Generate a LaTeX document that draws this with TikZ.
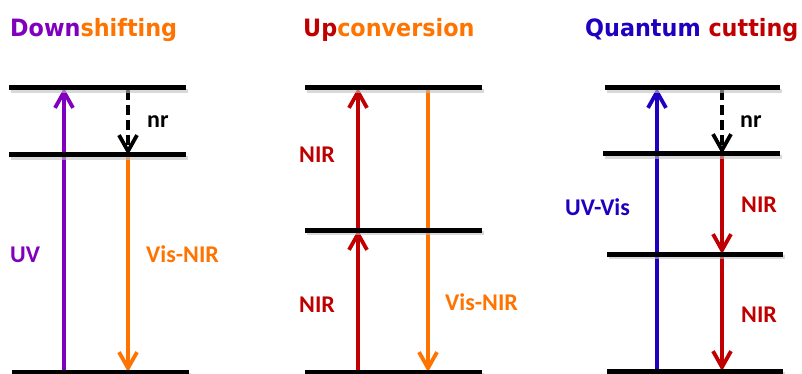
\documentclass[tikz,border=0pt]{standalone}
\usepackage{fontspec}
\usetikzlibrary{arrows.meta}
\newfontfamily\headfont{DejaVu Sans}
\newfontfamily\labfont{Carlito}
\definecolor{dsviolet}{RGB}{128,0,190}
\definecolor{dsorange}{RGB}{255,115,0}
\definecolor{dsred}{RGB}{192,0,0}
\definecolor{dsblue}{RGB}{32,0,192}
\newcommand{\tallhead}[1]{\scalebox{1}[1.07]{#1}}
\begin{document}
\begin{tikzpicture}[x=1pt,y=-1pt,
  levelbar/.style={line width=5pt,black},
  levelshade/.style={line width=4pt,black!25,opacity=.6},
  ray/.style={line width=3.8pt,-{Straight Barb[length=16pt,width=18pt]}},
  nrray/.style={ray,black,dash pattern=on 10pt off 5pt},
  lab/.style={font=\labfont\bfseries\fontsize{24}{24}\selectfont,inner sep=0pt,anchor=base west},
  head/.style={font=\headfont\bfseries\fontsize{22.3}{24}\selectfont,inner sep=0pt,anchor=base west}]
\useasboundingbox (0,0) rectangle (802,374);

% ---------- titles ----------
\node[head] (t1) at (10,37) {\tallhead{\textcolor{dsviolet}{Down}\textcolor{dsorange}{shifting}}};
\node[head] (t2) at (303,37) {\tallhead{\textcolor{dsred}{Up}\textcolor{dsorange}{conversion}}};
\node[head] (t3) at (585,37) {\tallhead{\textcolor{dsblue}{Quantum} \textcolor{dsred}{cutting}}};

% ---------- arrow end points ----------
% Downshifting
\coordinate (a0) at (64,372);  \coordinate (a2) at (64,88);
\coordinate (b2) at (128,90);  \coordinate (b1) at (128,155); \coordinate (b0) at (128,372);
% Upconversion
\coordinate (c0) at (358,372); \coordinate (c1) at (358,230); \coordinate (c2) at (358,88);
\coordinate (d2) at (428,90);  \coordinate (d0) at (428,372);
% Quantum cutting
\coordinate (e0) at (657,371); \coordinate (e3) at (657,88);
\coordinate (f3) at (722,90);  \coordinate (f2) at (722,154); \coordinate (f1) at (722,254); \coordinate (f0) at (722,371);

% ---------- transitions ----------
\draw[ray,dsviolet] (a0) -- (a2);
\draw[nrray] (b2) -- (b1);
\draw[ray,dsorange] (b1) -- (b0);

\draw[ray,dsred] (c0) -- (c1);
\draw[ray,dsred] (c1) -- (c2);
\draw[ray,dsorange] (d2) -- (d0);

\draw[ray,dsblue] (e0) -- (e3);
\draw[nrray] (f3) -- (f2);
\draw[ray,dsred] (f2) -- (f1);
\draw[ray,dsred] (f1) -- (f0);

% ---------- energy levels ----------
\foreach \xa/\xb/\yy in {9/186/88, 9/186/155, 12/189/372,
                         305/482/88, 305/482/230, 305/482/372,
                         605/780/88, 603/780/154, 607/783/254, 607/783/371}{
  \draw[levelshade] (\xa+2,\yy+3) -- (\xb+2,\yy+3);
  \draw[levelbar] (\xa,\yy) -- (\xb,\yy);
}

% ---------- labels ----------
\node[lab,black] (l1) at (147,128) {nr};
\node[lab,dsviolet] (l2) at (10,262) {UV};
\node[lab,dsorange] (l3) at (146,262) {Vis-NIR};

\node[lab,dsred] (l4) at (299,163) {NIR};
\node[lab,dsred] (l5) at (299,312) {NIR};
\node[lab,dsorange] (l6) at (445,310) {Vis-NIR};

\node[lab,black] (l7) at (740,128) {nr};
\node[lab,dsblue] (l8) at (565,215) {UV-Vis};
\node[lab,dsred] (l9) at (741,212) {NIR};
\node[lab,dsred] (l10) at (741,322) {NIR};
\end{tikzpicture}
\end{document}
